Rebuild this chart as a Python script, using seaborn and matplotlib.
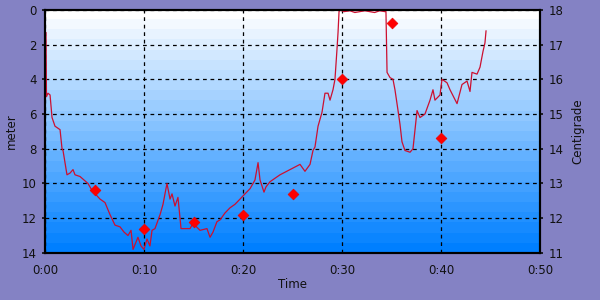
import numpy as np
import pandas as pd
import matplotlib
matplotlib.use("Agg")
import matplotlib.pyplot as plt
import seaborn as sns

# ---- data ----
depth_time = [0.10, 0.15, 0.30, 0.51, 0.71, 1.01, 1.52, 1.72, 1.82, 2.22, 2.53, 2.83, 3.03, 3.54,
              4.34, 4.75, 5.56, 6.06, 6.57, 7.07, 7.58, 7.98, 8.38, 8.69, 8.89, 9.39, 9.70, 10.0,
              10.3, 10.6, 10.81, 11.11, 11.62, 11.92, 12.32, 12.63, 12.83, 13.13, 13.43, 13.64,
              13.74, 14.65, 14.95, 15.66, 16.36, 16.67, 16.97, 17.37, 17.68, 18.18, 18.69, 19.19,
              19.70, 20.20, 20.71, 21.21, 21.52, 21.72, 22.12, 22.32, 22.73, 23.23, 23.74, 24.75,
              25.76, 26.26, 26.77, 27.07, 27.27, 27.58, 27.98, 28.28, 28.59, 28.79, 29.09, 29.29,
              29.49, 29.60, 29.70, 29.80, 30.2, 30.8, 31.3, 31.8, 32.3, 32.8, 33.3, 33.8, 34.34,
              34.44, 34.55, 34.85, 35.15, 35.35, 35.66, 35.86, 36.06, 36.36, 36.87, 37.17, 37.58,
              37.88, 38.38, 38.89, 39.19, 39.39, 39.90, 40.10, 40.61, 40.91, 41.62, 42.12, 42.63,
              42.93, 43.13, 43.64, 43.94, 44.24, 44.44, 44.55]
depth_m = [1.3, 5.0, 4.8, 4.9, 6.2, 6.7, 6.9, 8.0, 8.1, 9.5, 9.4, 9.2, 9.5, 9.6,
           10.0, 10.4, 10.9, 11.1, 11.8, 12.4, 12.5, 12.8, 13.0, 12.7, 13.8, 13.1, 13.6, 13.8,
           13.2, 13.6, 12.7, 12.6, 11.8, 11.2, 10.0, 10.9, 10.6, 11.3, 10.8, 12.0,
           12.6, 12.6, 12.3, 12.7, 12.6, 13.1, 12.8, 12.2, 12.1, 11.7, 11.4, 11.2,
           10.9, 10.6, 10.3, 9.8, 8.8, 9.8, 10.5, 10.2, 9.9, 9.7, 9.5, 9.2,
           8.9, 9.3, 8.9, 8.1, 7.9, 6.7, 5.9, 4.8, 4.8, 5.2, 4.6, 4.0,
           2.3, 1.3, 0.1, 0.0, 0.1, 0.05, 0.15, 0.1, 0.05, 0.1, 0.15, 0.05, 0.1,
           0.1, 3.6, 3.9, 4.0, 4.6, 5.8, 6.6, 7.6, 8.1, 8.2, 8.0, 5.8,
           6.2, 6.0, 5.2, 4.6, 5.2, 4.9, 4.0, 4.2, 4.6, 5.4, 4.3, 4.1,
           4.7, 3.6, 3.7, 3.3, 2.4, 1.9, 1.2]

temp_time = [5, 10, 15, 20, 25, 30, 35, 40]
temp_c = [12.81, 11.69, 11.89, 12.09, 12.70, 16.0, 17.63, 14.31]

x_ticks = [0, 10, 20, 30, 40, 50]
x_ticklabels = ["0:00", "0:10", "0:20", "0:30", "0:40", "0:50"]
depth_ticks = [0, 2, 4, 6, 8, 10, 12, 14]
temp_ticks = [11, 12, 13, 14, 15, 16, 17, 18]

depth_df = pd.DataFrame({"t": depth_time, "d": depth_m})
temp_df = pd.DataFrame({"t": temp_time, "c": temp_c})

sns.set_theme(style="white")
plt.rcParams["font.family"] = ["DejaVu Sans"]

bg = "#8482C4"
txt = "#111111"
fs = 8.5
fig = plt.figure(figsize=(6, 3), dpi=100, facecolor=bg)
ax = fig.add_axes([0.075, 0.157, 0.825, 0.81])

# banded gradient background
nb = 24
top = np.array([1.0, 1.0, 1.0])
bot = np.array([0.0, 0.5, 1.0])
cols = np.array([top + (bot - top) * (i / (nb - 1)) for i in range(nb)]).reshape(nb, 1, 3)
ax.imshow(cols, extent=[0, 1, 0, 1], transform=ax.transAxes, aspect="auto",
          interpolation="nearest", zorder=0)

sns.lineplot(data=depth_df, x="t", y="d", ax=ax, sort=False, estimator=None,
             color="#CC1030", linewidth=0.9, zorder=3)

ax.set_xlim(0, 50)
ax.set_ylim(14, 0)
ax.set_xticks(x_ticks)
ax.set_xticklabels(x_ticklabels)
ax.set_yticks(depth_ticks)
ax.grid(True, color="black", linestyle=(0, (3, 3)), linewidth=0.9)
ax.set_xlabel("Time", fontsize=fs, color=txt, labelpad=0.5)
ax.set_ylabel("meter", fontsize=fs, color=txt, labelpad=3)
ax.tick_params(axis="x", labelsize=fs, colors=txt, length=2, pad=6)
ax.tick_params(axis="y", labelsize=fs, colors=txt, length=2, pad=4)

ax2 = ax.twinx()
sns.scatterplot(data=temp_df, x="t", y="c", ax=ax2, marker="D", s=30,
                color="#FF0000", edgecolor="#EE0000", linewidth=0.5, zorder=4)
ax2.set_ylim(11, 18)
ax2.set_yticks(temp_ticks)
ax2.set_ylabel("Centigrade", fontsize=fs, color=txt, labelpad=6)
ax2.tick_params(axis="y", labelsize=fs, colors=txt, length=2, pad=4)
ax2.grid(False)

for a in (ax, ax2):
    for s in a.spines.values():
        s.set_color("black")
        s.set_linewidth(1.5)

fig.savefig("out.png", dpi=100, facecolor=bg)
